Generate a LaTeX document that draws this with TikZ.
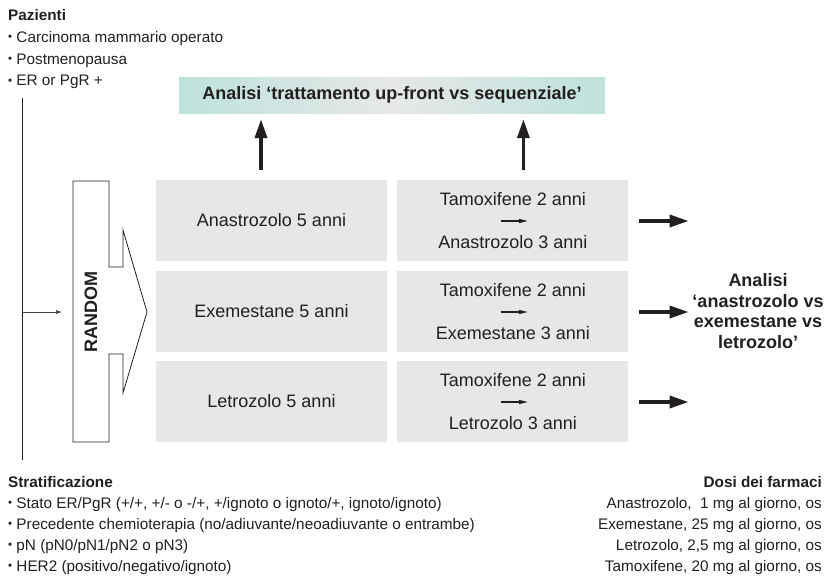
\documentclass[tikz,border=0pt]{standalone}
\usepackage{fontspec}
\setmainfont{Liberation Sans}
\usetikzlibrary{arrows.meta,positioning,calc}
\definecolor{boxgray}{HTML}{E6E7E8}
\definecolor{tealbox}{HTML}{BEE3DC}
\definecolor{ink}{HTML}{231F20}
\newcommand{\bul}{\raisebox{0.12em}{\scalebox{0.75}{•}}\ }
\tikzset{
  sidetxt/.style={font=\fontsize{15.3}{21}\selectfont, text=ink, inner sep=0pt},
  armbox/.style={fill=boxgray, minimum width=231pt, minimum height=81pt, inner sep=0pt,
    font=\fontsize{18}{22}\selectfont, text=ink},
  armtxt/.style={font=\fontsize{18}{22}\selectfont, text=ink, inner sep=0pt},
  fatarrow/.style={line width=3.6pt, ink, -{Triangle[length=19pt,width=12pt]}},
  smallarrow/.style={line width=1.1pt, ink, -{Triangle[length=9pt,width=4pt]}},
}
\begin{document}
\begin{tikzpicture}[x=1pt,y=-1pt]
\useasboundingbox (0,0) rectangle (834,579);

% patients
\node[sidetxt, anchor=base west] (paz) at (8,20.5) {\bfseries Pazienti};
\foreach \t [count=\i] in {Carcinoma mammario operato, Postmenopausa, ER or PgR +}
  \node[sidetxt, anchor=base west] (paz\i) at (8,20.5+21.8*\i) {\bul\t};

% randomisation line
\coordinate (vtop) at (22,98);
\coordinate (vbot) at (22,460);
\coordinate (vmid) at (22,312);
\coordinate (rin) at (62,312);
\draw[ink, line width=0.9pt] (vtop) -- (vbot);
\draw[ink!85, line width=0.7pt, -{Latex[length=6pt,width=4pt]}] (vmid) -- (rin);

% RANDOM arrow
\draw[ink, line width=0.8pt] (73,181) -- (109,181) -- (109,267) -- (123,267) -- (123,230)
  -- (147,312) -- (123,393) -- (123,354) -- (109,354) -- (109,442) -- (73,442) -- cycle;
\node[rotate=90, font=\bfseries\fontsize{18}{18}\selectfont, text=ink] (rnd) at (91,312) {RANDOM};

% up-front arms
\node[armbox] (ana) at (271.5,220.5) {Anastrozolo 5 anni};
\node[armbox] (exe) at (271.5,311.5) {Exemestane 5 anni};
\node[armbox] (let) at (271.5,401.5) {Letrozolo 5 anni};

% sequential arms
\foreach \n/\d in {ana/Anastrozolo, exe/Exemestane, let/Letrozolo} {
  \node[armbox, right=10pt of \n] (seq-\n) {};
  \node[armtxt] (tam-\n) at ($(seq-\n.center)+(0,-21.5)$) {Tamoxifene 2 anni};
  \node[armtxt] (ai-\n) at ($(seq-\n.center)+(0,21.5)$) {\d\ 3 anni};
  \draw[smallarrow] ($(seq-\n.center)+(-12,0.5)$) -- ($(seq-\n.center)+(15,0.5)$);
  \draw[fatarrow] ($(seq-\n.east)+(10,0.5)$) -- ($(seq-\n.east)+(60,0.5)$);
}

% analysis up-front vs sequential
\node[minimum width=426pt, minimum height=36pt, inner sep=0pt,
  left color=tealbox, right color=tealbox, middle color=boxgray,
  font=\bfseries\fontsize{18}{22}\selectfont, text=ink] (upf) at (392,95)
  {Analisi ‘trattamento up-front vs sequenziale’};
\coordinate (up1) at ($(ana.north)+(-10.5,-10)$);
\coordinate (up2) at ($(seq-ana.north)+(10.5,-10)$);
\draw[fatarrow] (up1) -- ([yshift=-6pt]up1 |- upf.south);
\draw[fatarrow] (up2) -- ([yshift=-6pt]up2 |- upf.south);

% analysis between drugs
\node[font=\bfseries\fontsize{18}{20.7}\selectfont, align=center, text=ink] (anl) at (758,311)
  {Analisi\\‘anastrozolo vs\\exemestane vs\\letrozolo’};

% stratification
\node[sidetxt, anchor=base west] (strat) at (8,487.5) {\bfseries Stratificazione};
\foreach \t [count=\i] in {{Stato ER/PgR (+/+, +/- o -/+, +/ignoto o ignoto/+, ignoto/ignoto)},
    {Precedente chemioterapia (no/adiuvante/neoadiuvante o entrambe)},
    {pN (pN0/pN1/pN2 o pN3)}, {HER2 (positivo/negativo/ignoto)}}
  \node[sidetxt, anchor=base west] (strat\i) at (8,487.5+21*\i) {\bul\t};

% doses
\node[sidetxt, anchor=base east] (dosi) at (822,487.5) {\bfseries Dosi dei farmaci};
\foreach \t [count=\i] in {{Anastrozolo, \ 1 mg al giorno, os}, {Exemestane, 25 mg al giorno, os},
    {Letrozolo, 2,5 mg al giorno, os}, {Tamoxifene, 20 mg al giorno, os}}
  \node[sidetxt, anchor=base east] (dosi\i) at (822,487.5+21*\i) {\t};
\end{tikzpicture}
\end{document}
